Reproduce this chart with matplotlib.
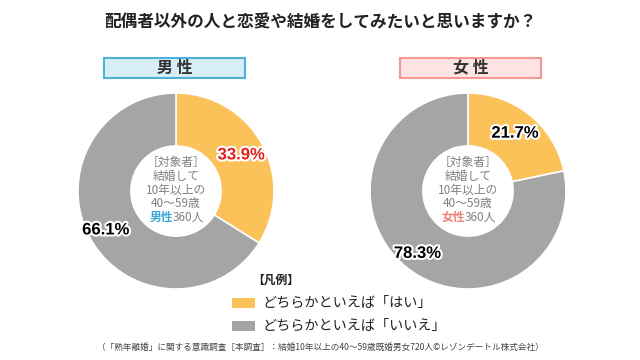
import matplotlib
matplotlib.use("Agg")
import numpy as np
import matplotlib.pyplot as plt
import matplotlib.patheffects as pe
from matplotlib.patches import Rectangle

plt.rcParams['font.family'] = ['Noto Sans CJK JP', 'DejaVu Sans']

title = "配偶者以外の人と恋愛や結婚をしてみたいと思いますか？"
groups = ["男性", "女性"]
answers = ["どちらかといえば「はい」", "どちらかといえば「いいえ」"]
male_vals = [33.9, 66.1]
female_vals = [21.7, 78.3]
footnote = "（「熟年離婚」に関する意識調査［本調査］：結婚10年以上の40～59歳既婚男女720人©レゾンデートル株式会社）"

YELLOW = "#fbc25a"
GRAY = "#a5a5a5"
W, H = 640, 360

def px(x, y):
    return x / W, 1 - y / H

fig = plt.figure(figsize=(6.4, 3.6), dpi=100)
fig.patch.set_facecolor("white")

fig.text(*px(320, 22), title, ha="center", va="center", fontsize=12,
         fontweight="bold", color="#222222")

# header boxes
box_styles = [("#d7eef6", "#4db2d8"), ("#fde4e2", "#f29a90")]
box_x = [104, 400]
for name, (fc, ec), bx in zip(groups, box_styles, box_x):
    x0, y0 = px(bx, 78)
    fig.patches.append(Rectangle((x0, y0), 141 / W, 20 / H, transform=fig.transFigure,
                                 facecolor=fc, edgecolor=ec, linewidth=1.5))
    fig.text(*px(bx + 70.5, 68), " ".join(name), ha="center", va="center",
             fontsize=11.5, fontweight="bold", color="#333333")

# donuts
centers = [(176, 191), (468, 191)]
R = 98
pct_colors = [["#e0201c", "black"], ["black", "black"]]
accent = ["#3aa6d6", "#f0807a"]
for vals, (cx, cy), pcol, acc, name in zip([male_vals, female_vals], centers,
                                           pct_colors, accent, groups):
    ax = fig.add_axes([(cx - R) / W, 1 - (cy + R) / H, 2 * R / W, 2 * R / H])
    wedges, _ = ax.pie(vals, colors=[YELLOW, GRAY], startangle=90, counterclock=False,
                       radius=1, wedgeprops=dict(width=0.54, edgecolor="white", linewidth=1.2))
    ax.set_xlim(-1, 1)
    ax.set_ylim(-1, 1)
    ax.set_aspect("equal")
    ax.axis("off")
    # percentage labels
    dists = [0.76, 0.82]
    for w, v, c, d in zip(wedges, vals, pcol, dists):
        ang = np.deg2rad((w.theta1 + w.theta2) / 2)
        ax.text(d * np.cos(ang), d * np.sin(ang), f"{v:.1f}%", ha="center", va="center",
                fontsize=12, fontweight="bold", color=c, family=["Liberation Sans", "DejaVu Sans"],
                path_effects=[pe.withStroke(linewidth=3, foreground="white")])
    # center text
    lines = ["［対象者］", "結婚して", "10年以上の", "40～59歳"]
    for i, ln in enumerate(lines):
        ax.text(0, 0.29 - i * 0.14, ln, ha="center", va="center", fontsize=8.5, color="#808080")
    ax.text(-0.03, 0.29 - 4 * 0.14, name, ha="right", va="center", fontsize=8.5,
            fontweight="bold", color=acc)
    ax.text(-0.03, 0.29 - 4 * 0.14, "360人", ha="left", va="center", fontsize=8.5, color="#808080")

# legend
fig.text(*px(252, 280), "【凡例】", ha="left", va="center", fontsize=8.5,
         fontweight="bold", color="#222222")
for i, (lab, col) in enumerate(zip(answers, [YELLOW, GRAY])):
    yc = 303 + i * 23
    x0, y0 = px(232, yc + 5)
    fig.patches.append(Rectangle((x0, y0), 23 / W, 10 / H, transform=fig.transFigure,
                                 facecolor=col, edgecolor="none"))
    fig.text(*px(263, yc), lab, ha="left", va="center", fontsize=10.2, color="#222222")

fig.text(*px(320, 347), footnote, ha="center", va="center", fontsize=6.2, color="#444444")

fig.savefig("out.png", dpi=100, facecolor="white")
